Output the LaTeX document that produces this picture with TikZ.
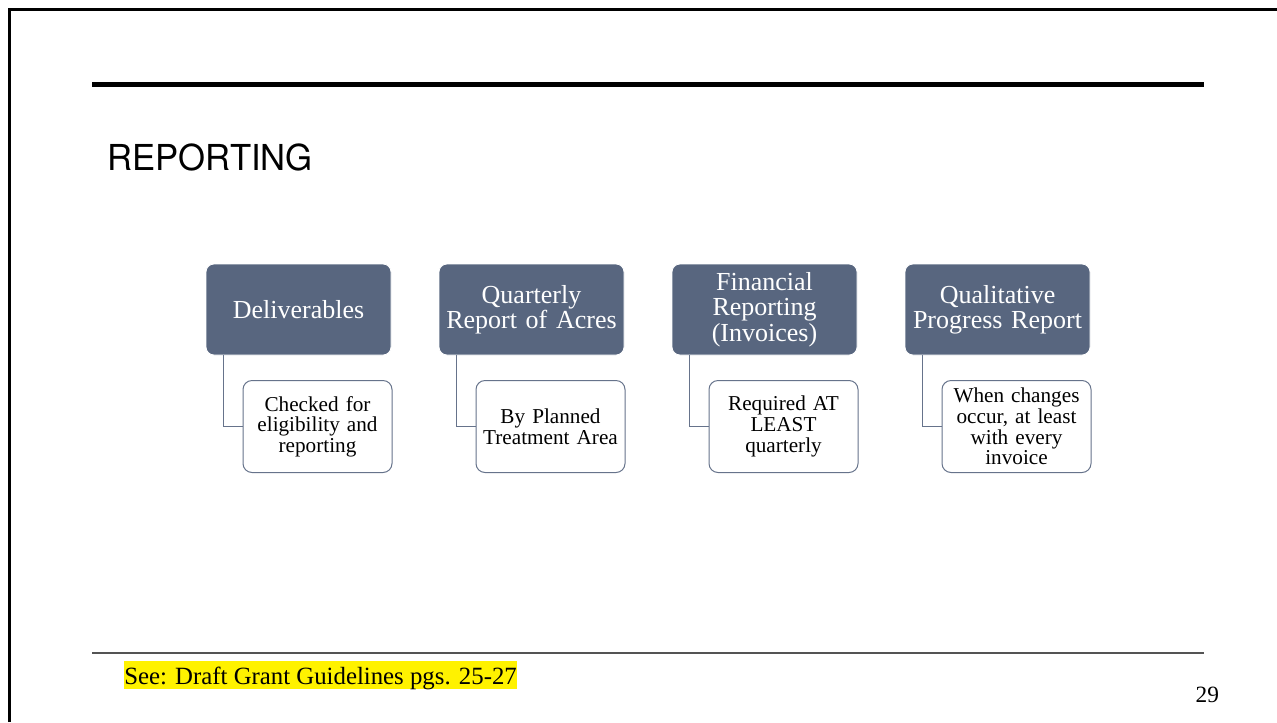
\documentclass[tikz,border=0pt]{standalone}
\usepackage{fontspec}
\setmainfont{Liberation Serif}
\newfontfamily\headfont[FakeStretch=0.97]{TeX Gyre Heros}

\newlength{\du}
\setlength{\du}{0.75pt}

\definecolor{boxcolor}{rgb}{0.345000, 0.400000, 0.498000}
\definecolor{notecolor}{rgb}{0.400000, 0.450000, 0.545000}
\definecolor{rulecolor}{rgb}{0.330000, 0.330000, 0.330000}

\tikzset{
  headbox/.style={rectangle, rounded corners=8\du, fill=boxcolor, draw=white, line width=0.8\du,
    minimum width=185\du, minimum height=91\du, text width=182\du, inner sep=0pt,
    align=center, text=white, font=\fontsize{19.5}{19}\selectfont},
  notebox/.style={rectangle, rounded corners=9\du, fill=white, draw=notecolor, line width=1\du,
    minimum width=149\du, minimum height=92\du, text width=146\du, inner sep=0pt,
    align=center, font=\fontsize{15.9}{15.5}\selectfont},
  elbow/.style={draw=notecolor, line width=1.2\du}
}

\begin{document}
\begin{tikzpicture}[x=\du, y=-\du]
\useasboundingbox (0,0) rectangle (1277,722);
% slide frame and rules
\draw[line width=2.2\du] (9.5,722)--(9.5,9.5)--(1277,9.5);
\draw[line width=5\du] (92,84)--(1204,84);
\draw[rulecolor, line width=1.4\du] (92,653)--(1204,653);
% title
\node[anchor=base west, font=\headfont\fontsize{26.8}{26.8}\selectfont] (title) at (103,170) {REPORTING};
% top row
\node[headbox] (deliv) at (298.5,309.5) {Deliverables};
\node[headbox] (quart) at (531.5,309.5) {Quarterly\\Report of Acres};
\node[headbox] (finan) at (764.5,309.5) {Financial\\Reporting\\(Invoices)};
\node[headbox] (quali) at (997.5,309.5) {Qualitative\\Progress Report};
% notes
\node[notebox] (deliv-n) at (317.5,426.5) {Checked for\\eligibility and\\reporting};
\node[notebox] (quart-n) at (550.5,426.5) {By Planned\\Treatment Area};
\node[notebox] (finan-n) at (783.5,426.5) {Required AT\\LEAST\\quarterly};
\node[notebox] (quali-n) at (1016.5,426.5) {When changes\\occur, at least\\with every\\invoice};
% elbows
\draw[elbow] ([xshift=18\du]deliv.south west) |- (deliv-n.west);
\draw[elbow] ([xshift=18\du]quart.south west) |- (quart-n.west);
\draw[elbow] ([xshift=18\du]finan.south west) |- (finan-n.west);
\draw[elbow] ([xshift=18\du]quali.south west) |- (quali-n.west);
% footer
\node[anchor=base west, fill=yellow, inner sep=0pt, text height=23\du, text depth=5\du,
  font=\fontsize{18.6}{18.6}\selectfont] (source) at (124,684) {See: Draft Grant Guidelines pgs. 25-27};
\node[anchor=base west, font=\fontsize{17.5}{17.5}\selectfont] (pagenum) at (1191,702) {29};
\end{tikzpicture}
\end{document}
